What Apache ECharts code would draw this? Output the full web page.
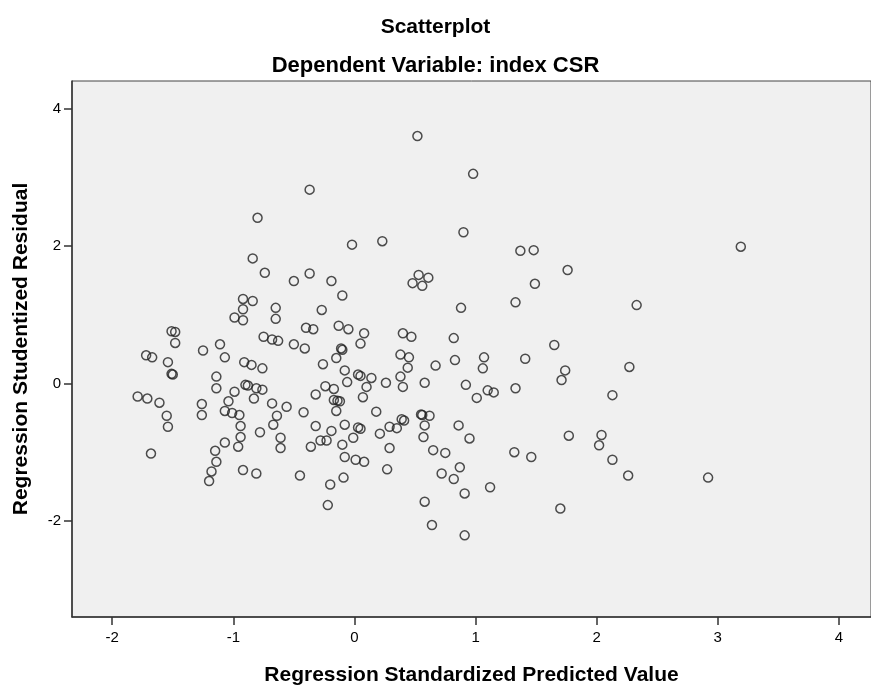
<!DOCTYPE html>
<html>
<head>
<meta charset="utf-8">
<script src="https://cdn.jsdelivr.net/npm/echarts@6/dist/echarts.min.js"></script>
<style>
html,body{margin:0;padding:0;background:#fff;}
#chart{width:871px;height:691px;}
</style>
</head>
<body>
<div id="chart"></div>
<script>
const predicted = [
-0.80,-0.84,-0.74,-0.50,-0.92,-0.84,-0.92,-0.65,-0.99,-0.92,
-0.65,-1.51,-1.48,-1.48,-0.75,-0.68,-0.63,-0.50,-1.11,-1.25,
-1.07,-1.72,-1.67,-1.54,-1.51,-1.50,-0.91,-0.85,-0.76,-1.14,
-1.14,-0.90,-0.88,-0.81,-0.76,-0.99,-0.83,-1.79,-1.71,-1.61,
-1.04,-1.26,-0.68,-0.56,-1.07,-1.01,-0.95,-1.26,-0.64,-0.42,
-1.55,-0.94,-0.67,-1.54,-0.78,-0.94,-0.61,-1.07,-0.96,-0.61,
-1.15,-1.68,-1.14,-1.18,-0.92,-0.81,-1.20,-0.45,
0.52,0.98,-0.37,-0.02,0.23,0.90,-0.37,-0.19,-0.10,-0.27,
0.53,0.61,0.48,0.56,0.88,
-0.40,-0.34,-0.13,-0.05,0.08,0.40,0.47,0.82,
-0.41,-0.11,-0.10,0.05,-0.15,0.38,0.45,0.44,0.83,-0.26,
0.67,-0.08,0.03,0.05,0.14,-0.06,0.38,0.26,0.58,0.10,
0.40,0.92,-0.24,-0.17,-0.32,0.07,1.01,-0.17,-0.14,-0.12,
-0.15,0.18,0.55,0.56,0.62,0.39,0.41,0.35,0.29,0.58,
0.86,-0.32,-0.08,0.03,0.05,-0.19,0.21,-0.01,0.57,0.95,
-0.28,-0.23,-0.10,-0.36,0.29,0.65,0.75,-0.08,0.01,0.08,
0.87,0.72,0.82,0.27,-0.09,-0.20,0.91,-0.22,0.58,0.64,0.91,
1.37,1.48,1.76,1.49,1.33,2.33,1.65,1.07,1.06,1.41,
1.74,1.71,2.27,1.10,1.15,1.33,2.13,1.77,2.04,2.02,
1.32,1.46,2.13,2.26,1.12,1.70,3.19,2.92
];
const residual = [
2.41,1.82,1.61,1.49,1.23,1.20,1.08,1.10,0.96,0.92,
0.94,0.76,0.75,0.59,0.68,0.64,0.62,0.57,0.57,0.48,
0.38,0.41,0.38,0.31,0.14,0.13,0.31,0.27,0.22,0.10,
-0.07,-0.02,-0.03,-0.07,-0.09,-0.12,-0.22,-0.19,-0.22,-0.28,
-0.26,-0.30,-0.29,-0.34,-0.40,-0.43,-0.46,-0.46,-0.47,-0.42,
-0.47,-0.62,-0.60,-0.63,-0.71,-0.78,-0.79,-0.86,-0.92,-0.94,
-0.98,-1.02,-1.14,-1.28,-1.26,-1.31,-1.42,-1.34,
3.60,3.05,2.82,2.02,2.07,2.20,1.60,1.49,1.28,1.07,
1.58,1.54,1.46,1.42,1.10,
0.81,0.79,0.84,0.79,0.73,0.73,0.68,0.66,
0.51,0.51,0.49,0.58,0.37,0.42,0.38,0.23,0.34,0.28,
0.26,0.19,0.13,0.11,0.08,0.02,0.10,0.01,0.01,-0.05,
-0.05,-0.02,-0.04,-0.08,-0.16,-0.20,-0.21,-0.24,-0.25,-0.26,
-0.40,-0.41,-0.45,-0.46,-0.47,-0.52,-0.54,-0.65,-0.63,-0.61,
-0.61,-0.62,-0.60,-0.64,-0.66,-0.69,-0.73,-0.79,-0.78,-0.80,
-0.83,-0.83,-0.89,-0.92,-0.94,-0.97,-1.01,-1.07,-1.11,-1.14,
-1.22,-1.31,-1.39,-1.25,-1.37,-1.47,-1.60,-1.77,-1.72,-2.06,-2.21,
1.93,1.94,1.65,1.45,1.18,1.14,0.56,0.38,0.22,0.36,
0.19,0.05,0.24,-0.10,-0.13,-0.07,-0.17,-0.76,-0.75,-0.90,
-1.00,-1.07,-1.11,-1.34,-1.51,-1.82,1.99,-1.37
];
const xTicks = [-2,-1,0,1,2,3,4];
const yTicks = [-2,0,2,4];
const titleText = 'Scatterplot';
const subtitleText = 'Dependent Variable: index CSR';
const xName = 'Regression Standardized Predicted Value';
const yName = 'Regression Studentized Residual';

const points = predicted.map((x, i) => [x, residual[i]]);
const FONT = "'Liberation Sans', Arial, sans-serif";

const chart = echarts.init(document.getElementById('chart'), null, {renderer: 'canvas'});
chart.setOption({
  animation: false,
  backgroundColor: '#ffffff',
  title: [
    {text: titleText, left: 'center', top: 12,
     textStyle: {fontFamily: FONT, fontSize: 21, fontWeight: 'bold', color: '#000'}},
    {text: subtitleText, left: 'center', top: 50,
     textStyle: {fontFamily: FONT, fontSize: 22, fontWeight: 'bold', color: '#000'}}
  ],
  grid: {
    left: 72, top: 81, right: -2, bottom: 70,
    show: true, backgroundColor: '#f0f0f0', borderColor: '#444', borderWidth: 1
  },
  xAxis: {
    type: 'value', min: -2.332, max: 4.265,
    name: xName, nameLocation: 'middle', nameGap: 48,
    nameTextStyle: {fontFamily: FONT, fontSize: 21, fontWeight: 'bold', color: '#000'},
    axisLine: {show: true, onZero: false, lineStyle: {color: '#333', width: 1.5}},
    axisTick: {show: true, customValues: xTicks, length: 8, lineStyle: {color: '#333', width: 1.5}},
    axisLabel: {customValues: xTicks, fontFamily: FONT, fontSize: 15, color: '#000', margin: 13},
    splitLine: {show: false}
  },
  yAxis: {
    type: 'value', min: -3.398, max: 4.401,
    name: yName, nameLocation: 'middle', nameGap: 40, nameRotate: 90,
    nameTextStyle: {fontFamily: FONT, fontSize: 21, fontWeight: 'bold', color: '#000'},
    axisLine: {show: true, onZero: false, lineStyle: {color: '#333', width: 1.5}},
    axisTick: {show: true, customValues: yTicks, length: 8, lineStyle: {color: '#333', width: 1.5}},
    axisLabel: {customValues: yTicks, fontFamily: FONT, fontSize: 15, color: '#000', margin: 11},
    splitLine: {show: false}
  },
  series: [{
    type: 'scatter',
    data: points,
    symbol: 'circle',
    symbolSize: 9,
    itemStyle: {color: 'rgba(0,0,0,0)', borderColor: '#222', borderWidth: 1.5},
    emphasis: {disabled: true}
  }]
});
</script>
</body>
</html>
